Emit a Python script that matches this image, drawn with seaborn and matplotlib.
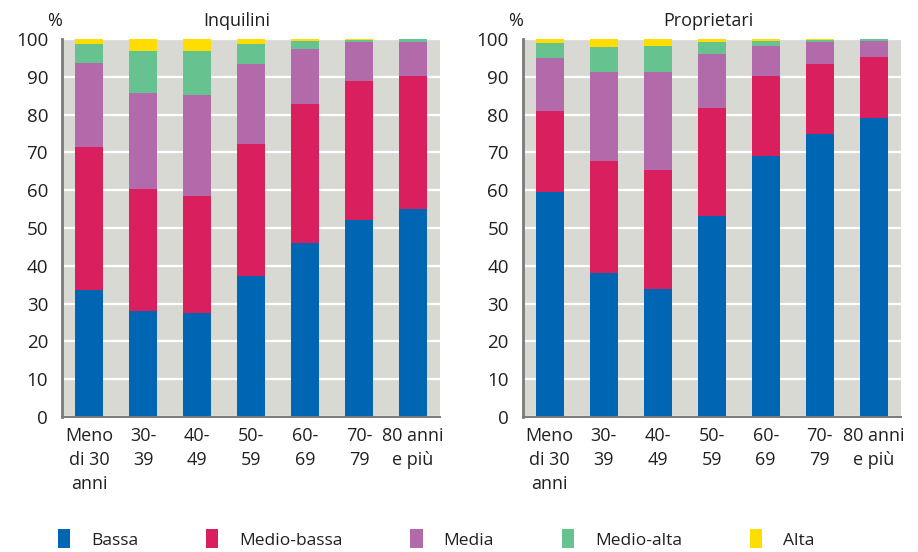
import numpy as np
import pandas as pd
import matplotlib
matplotlib.use("Agg")
import matplotlib.pyplot as plt
from matplotlib.patches import Patch
import seaborn as sns

# Age classes of the household head
categories = ["Meno\ndi 30\nanni", "30-\n39", "40-\n49", "50-\n59", "60-\n69", "70-\n79", "80 anni\ne più"]

# Income class shares (%) by age class
levels = ["Bassa", "Medio-bassa", "Media", "Medio-alta", "Alta"]

inquilini_bassa = [33.5, 28.0, 27.4, 37.4, 46.0, 52.2, 54.9]
inquilini_medio_bassa = [37.9, 32.2, 31.0, 34.8, 36.7, 36.7, 35.3]
inquilini_media = [22.2, 25.5, 26.8, 21.3, 14.6, 10.2, 8.9]
inquilini_medio_alta = [5.2, 11.2, 11.7, 5.3, 2.2, 0.6, 0.9]
inquilini_alta = [1.2, 3.1, 3.1, 1.2, 0.5, 0.3, 0.0]

proprietari_bassa = [59.5, 38.1, 33.9, 53.1, 69.1, 75.0, 79.0]
proprietari_medio_bassa = [21.5, 29.5, 31.4, 28.6, 21.2, 18.4, 16.2]
proprietari_media = [14.1, 23.7, 26.0, 14.4, 7.9, 5.8, 4.3]
proprietari_medio_alta = [3.9, 6.6, 6.8, 3.1, 1.3, 0.5, 0.4]
proprietari_alta = [1.0, 2.1, 1.9, 0.8, 0.5, 0.3, 0.1]

panels = [
    ("Inquilini", [inquilini_bassa, inquilini_medio_bassa, inquilini_media,
                   inquilini_medio_alta, inquilini_alta]),
    ("Proprietari", [proprietari_bassa, proprietari_medio_bassa, proprietari_media,
                     proprietari_medio_alta, proprietari_alta]),
]

colors = ["#0066B3", "#DA1F5E", "#B26AAA", "#66C28E", "#FFDD00"]
bg = "#D9D9D3"
spine_col = "#7A7A7A"
text_col = "#231F20"

sns.set_theme(style="white")
plt.rcParams["font.family"] = ["Open Sans", "DejaVu Sans"]
plt.rcParams["text.color"] = text_col

fig = plt.figure(figsize=(9.18, 5.52), dpi=100)
ax_w, ax_h = 378 / 918, 378 / 552
ax_b = 1 - 417 / 552
lefts = [62 / 918, 522.7 / 918]
title_x = [0.463, 0.49]

for (name, series), left, tx in zip(panels, lefts, title_x):
    ax = fig.add_axes([left, ax_b, ax_w, ax_h])
    ax.set_facecolor(bg)
    cum = np.cumsum(np.array(series), axis=0)
    # Stacked bars: draw cumulative totals from the top layer down
    for i in range(len(levels) - 1, -1, -1):
        df = pd.DataFrame({"eta": categories, "valore": cum[i]})
        sns.barplot(data=df, x="eta", y="valore", order=categories,
                    color=colors[i], saturation=1, width=0.52,
                    edgecolor="none", linewidth=0, ax=ax, zorder=2)
    ax.set_xlim(-0.5, 6.5)
    ax.set_ylim(0, 100)
    ax.set_yticks(np.arange(0, 101, 10))
    ax.yaxis.grid(True, color="white", linewidth=1.6, zorder=1)
    ax.set_axisbelow(True)
    ax.set_xlabel("")
    ax.set_ylabel("")
    for s in ["top", "right"]:
        ax.spines[s].set_visible(False)
    ax.spines["left"].set_color(spine_col)
    ax.spines["left"].set_linewidth(2.0)
    ax.spines["bottom"].set_color(spine_col)
    ax.spines["bottom"].set_linewidth(1.4)
    ax.tick_params(axis="y", direction="out", length=9, width=1.3,
                   color=spine_col, labelsize=13.5, labelcolor=text_col, pad=1)
    ax.tick_params(axis="x", length=0, labelsize=13, labelcolor=text_col, pad=7)
    for lab in ax.get_xticklabels():
        lab.set_linespacing(1.45)
        lab.set_verticalalignment("top")
    ax.text(tx, 1.025, name, transform=ax.transAxes, ha="center", va="bottom",
            fontsize=13, color=text_col)
    ax.text(-0.02, 1.025, "%", transform=ax.transAxes, ha="center", va="bottom",
            fontsize=13, color=text_col)

handles = [Patch(facecolor=c, edgecolor="none") for c in colors]
fig.legend(handles, levels, loc="center", bbox_to_anchor=(0.475, 0.024),
           ncol=5, frameon=False, fontsize=12.5, handlelength=0.72,
           handleheight=1.35, handletextpad=1.2, columnspacing=3.9)

fig.savefig("out.png", dpi=100, facecolor="white")
